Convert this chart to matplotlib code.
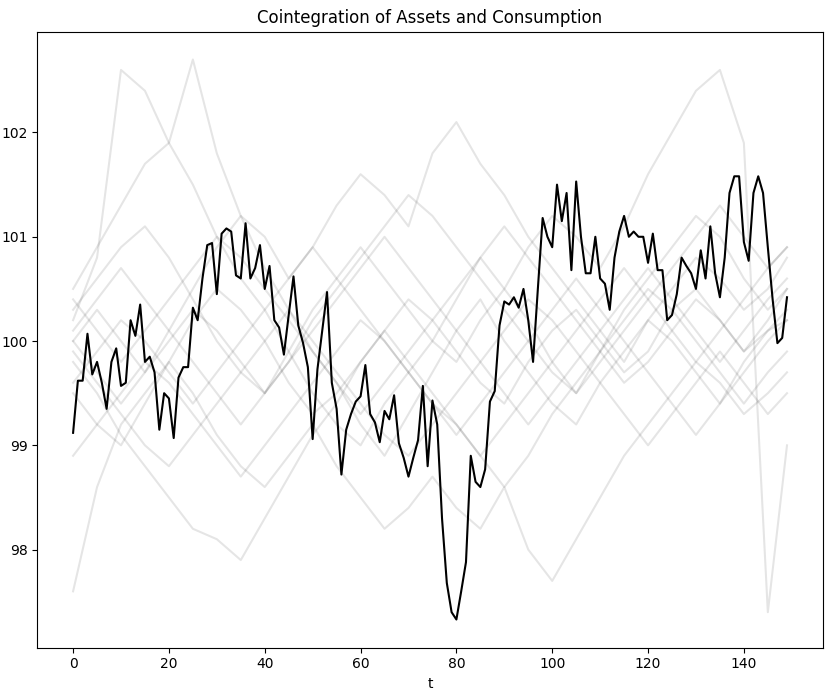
import matplotlib
matplotlib.use("Agg")
import matplotlib.pyplot as plt

black = [99.12,99.62,99.62,100.07,99.68,99.8,99.6,99.35,99.8,99.93,
 99.57,99.6,100.2,100.05,100.35,99.8,99.85,99.7,99.15,99.5,
 99.45,99.07,99.65,99.75,99.75,100.32,100.2,100.6,100.92,100.94,
 100.45,101.03,101.08,101.05,100.63,100.6,101.13,100.6,100.7,100.92,
 100.5,100.72,100.2,100.13,99.87,100.25,100.62,100.15,99.98,99.75,
 99.06,99.73,100.1,100.47,99.6,99.35,98.72,99.15,99.3,99.42,
 99.47,99.77,99.3,99.22,99.03,99.33,99.25,99.48,99.02,98.88,
 98.7,98.88,99.05,99.57,98.8,99.43,99.2,98.3,97.68,97.4,
 97.33,97.6,97.88,98.9,98.65,98.6,98.77,99.42,99.52,100.15,
 100.38,100.35,100.42,100.32,100.5,100.2,99.8,100.5,101.18,101.0,
 100.9,101.5,101.15,101.42,100.68,101.53,101.0,100.65,100.65,101.0,
 100.6,100.55,100.3,100.8,101.05,101.2,101.0,101.05,101.0,101.0,
 100.75,101.03,100.68,100.68,100.2,100.25,100.45,100.8,100.72,100.65,
 100.5,100.87,100.6,101.1,100.65,100.42,100.8,101.42,101.58,101.58,
 100.95,100.77,101.42,101.58,101.42,100.9,100.4,99.98,100.03,100.42]

gray_t = list(range(0, 150, 5)) + [149]
s1 = [97.6,98.6,99.2,99.5,99.8,100.2,100.5,100.3,100.0,99.6,99.3,99.5,99.8,100.1,100.4,100.2,99.9,99.6,99.4,99.8,100.1,100.3,100.0,99.7,99.9,100.3,100.5,100.2,99.9,100.1,100.2]
s2 = [100.2,100.8,102.6,102.4,101.9,101.5,101.0,100.6,100.3,99.9,99.5,99.2,99.0,99.4,99.7,100.0,100.4,100.8,100.5,100.2,99.8,99.5,99.9,100.3,100.6,100.9,101.2,101.0,100.6,100.3,100.5]
s3 = [100.5,100.9,101.3,101.7,101.9,102.7,101.8,101.2,100.7,100.3,99.9,99.6,99.2,98.9,99.3,99.7,100.1,100.4,100.0,99.7,99.4,99.2,99.6,99.9,100.2,100.0,99.7,99.4,99.8,100.1,100.3]
s4 = [99.8,99.5,99.1,98.8,98.5,98.2,98.1,97.9,98.3,98.7,99.1,99.4,99.8,100.1,99.8,99.5,99.2,98.9,98.6,98.9,99.3,99.6,99.9,100.2,100.5,100.3,100.0,99.7,99.4,99.7,99.9]
s5 = [100.0,100.3,100.0,99.7,100.1,100.5,100.9,101.2,101.0,100.6,100.9,101.3,101.6,101.4,101.1,101.8,102.1,101.7,101.4,101.0,100.7,100.4,100.1,99.8,100.2,100.5,100.8,100.6,100.3,100.5,100.8]
s6 = [99.5,99.2,99.0,99.4,99.8,99.5,99.1,98.8,98.6,98.9,99.2,98.8,98.5,98.2,98.4,98.7,98.4,98.2,98.6,98.0,97.7,98.1,98.5,98.9,99.2,99.5,99.8,99.6,99.3,99.5,99.7]
s7 = [100.0,99.7,99.4,99.7,100.0,100.3,100.1,99.8,99.5,99.9,100.3,100.6,100.9,100.6,100.3,100.0,99.8,100.2,100.5,100.9,101.2,101.0,100.7,101.1,101.6,102.0,102.4,102.6,101.9,97.4,99.0]
s8 = [100.3,100.6,100.9,101.1,100.8,100.4,100.0,99.7,99.5,99.8,100.2,100.5,100.8,101.1,101.4,101.2,100.9,100.6,100.3,100.0,99.7,99.5,99.8,100.1,100.4,100.7,101.0,101.3,101.0,100.7,100.9]
s9 = [99.9,99.6,99.3,99.0,98.8,99.1,99.4,99.7,100.0,100.3,100.0,99.7,99.4,99.1,98.9,99.2,99.5,99.8,100.1,100.4,100.2,99.9,99.6,99.3,99.0,99.3,99.6,99.9,99.6,99.3,99.5]
s10 = [100.1,100.4,100.7,100.4,100.1,99.8,99.5,99.2,99.5,99.8,100.1,100.4,100.7,101.0,100.7,100.4,100.1,99.8,99.5,99.2,99.5,99.8,100.1,100.4,100.7,100.4,100.1,99.8,100.1,100.4,100.6]
s11 = [98.9,99.2,99.5,99.8,99.6,99.3,99.0,98.7,99.0,99.3,99.6,99.9,100.2,100.0,99.7,99.4,99.1,99.4,99.7,100.0,100.3,100.6,100.3,100.0,99.7,99.4,99.1,99.4,99.7,100.0,100.2]
s12 = [100.4,100.1,99.8,100.1,100.4,100.7,101.0,100.8,100.5,100.2,99.9,99.6,99.3,99.6,99.9,100.2,100.5,100.8,101.1,100.8,100.5,100.2,99.9,99.6,99.8,100.1,100.4,100.2,99.9,100.2,100.5]
s13 = [99.6,99.9,100.2,100.0,99.7,99.4,99.7,100.0,100.3,100.6,100.9,100.6,100.3,100.0,99.7,99.4,99.2,98.9,99.2,99.5,99.8,100.1,100.4,100.7,100.4,100.1,99.8,100.1,100.4,100.7,100.9]
gray_series = [s1,s2,s3,s4,s5,s6,s7,s8,s9,s10,s11,s12,s13]

fig, ax = plt.subplots(figsize=(8.31, 7.0), dpi=100)
for s in gray_series:
    ax.plot(gray_t, s, color="k", alpha=0.1, lw=1.5)
ax.plot(range(len(black)), black, color="k", lw=1.5)
ax.set_title("Cointegration of Assets and Consumption")
ax.set_xlabel("t")
fig.subplots_adjust(left=0.045, right=0.99, top=0.955, bottom=0.075)
fig.savefig("out.png", dpi=100)
